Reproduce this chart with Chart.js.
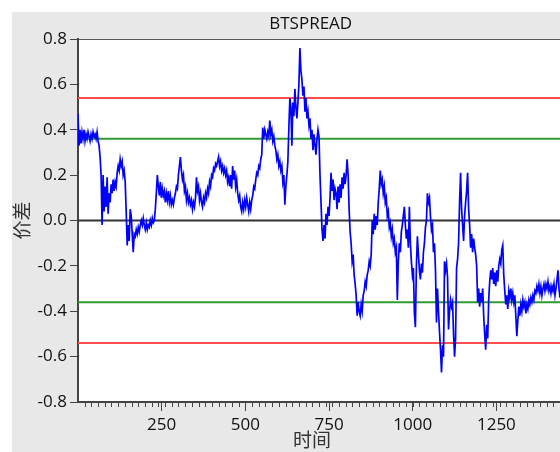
<!DOCTYPE html>
<html>
<head>
<meta charset="utf-8">
<script src="https://cdn.jsdelivr.net/npm/chart.js@4.4.0/dist/chart.umd.min.js"></script>
<style>
  body { margin: 0; background: #fff; }
  #wrap { position: absolute; left: 12px; top: 12px; width: 548px; height: 440px; background: #e8e8e8; }
</style>
</head>
<body>
<div id="wrap"><canvas id="spreadChart" width="548" height="440"></canvas></div>
<script>
// spread, one sample every 3 time steps
const step = 3;
const spread = [
  0.47, 0.33, 0.40, 0.34, 0.39, 0.36, 0.40, 0.35, 0.38, 0.36,
  0.39, 0.37, 0.35, 0.38, 0.36, 0.39, 0.37, 0.38, 0.36, 0.39,
  0.35, 0.33, 0.28, 0.20, -0.02, 0.20, 0.04, 0.15, 0.06, 0.19,
  0.03, 0.12, 0.08, 0.16, 0.12, 0.18, 0.13, 0.17, 0.15, 0.21,
  0.24, 0.22, 0.27, 0.24, 0.26, 0.20, 0.22, 0.17, 0.04, -0.11,
  -0.02, -0.09, 0.05, 0.02, -0.06, -0.14,
  -0.06, -0.07, -0.04, -0.06, -0.03, -0.05, -0.02, 0.00, -0.02, 0.01,
  -0.02, -0.04, -0.01, -0.04, -0.02, -0.03, 0.00, -0.02, 0.01, -0.01,
  0.00, 0.05, 0.12, 0.20, 0.15, 0.11, 0.17, 0.10, 0.14, 0.11,
  0.13, 0.08, 0.12, 0.09, 0.13, 0.08, 0.11, 0.07, 0.09, 0.07,
  0.10, 0.12, 0.15, 0.14, 0.20, 0.24, 0.28, 0.22, 0.18, 0.20,
  0.13, 0.15, 0.09, 0.12, 0.08, 0.10, 0.07, 0.09, 0.05, 0.08,
  0.06, 0.10, 0.19, 0.13, 0.15, 0.09, 0.12, 0.08, 0.06, 0.10,
  0.08, 0.12, 0.10, 0.14, 0.12, 0.17, 0.15, 0.20, 0.19, 0.23,
  0.22, 0.25, 0.24, 0.26, 0.28, 0.24, 0.26, 0.22, 0.24, 0.21,
  0.23, 0.20, 0.22, 0.17, 0.19, 0.15, 0.20, 0.14, 0.24, 0.18,
  0.22, 0.15, 0.18, 0.12, 0.09, 0.11, 0.06, 0.04, 0.08, 0.05,
  0.09, 0.06, 0.10, 0.07, 0.04, 0.08, 0.05, 0.09, 0.11, 0.15,
  0.14, 0.18, 0.21, 0.20, 0.24, 0.23, 0.27, 0.29, 0.41, 0.36,
  0.40, 0.38, 0.36, 0.39, 0.37, 0.44, 0.38, 0.40, 0.35, 0.37,
  0.33, 0.31, 0.27, 0.29, 0.24, 0.26, 0.22, 0.24, 0.17, 0.20,
  0.07, 0.15, 0.20, 0.26, 0.41, 0.54, 0.50, 0.33, 0.52, 0.46,
  0.58, 0.50, 0.45, 0.52, 0.60, 0.76, 0.66, 0.62, 0.55, 0.59,
  0.48, 0.54, 0.45, 0.48, 0.42, 0.45, 0.36, 0.40, 0.31, 0.38,
  0.33, 0.29, 0.36, 0.40, 0.37, 0.20, 0.08, -0.04, -0.09, -0.02,
  -0.08, 0.03, -0.02, 0.06, 0.02, 0.10, 0.21, 0.13, 0.18, 0.09,
  0.14, 0.12, 0.05, 0.15, 0.08, 0.16, 0.10, 0.19, 0.14, 0.21,
  0.16, 0.20, 0.27, 0.20, 0.05, -0.05, -0.10, -0.18, -0.15, -0.24,
  -0.28, -0.33, -0.42, -0.36, -0.40, -0.42, -0.37, -0.40, -0.33, -0.31,
  -0.27, -0.29, -0.24, -0.22, -0.18, -0.20, -0.15, 0.00, -0.06, 0.03,
  -0.04, 0.02, -0.02, 0.08, 0.14, 0.22, 0.16, 0.18, 0.12, 0.15,
  0.08, 0.10, 0.02, 0.04, -0.03, -0.01, -0.07, -0.04, -0.10, -0.08,
  -0.14, -0.12, -0.35, -0.18, -0.10, -0.14, -0.05, -0.02, 0.02, 0.06,
  -0.02, -0.08, -0.04, -0.12, 0.06, -0.10, -0.18, -0.24, -0.21, -0.41,
  -0.47, -0.20, -0.07, -0.15, -0.22, -0.26, -0.19, -0.23, -0.14, -0.10,
  -0.03, 0.00, 0.12, 0.08, 0.10, 0.02, -0.04, -0.02, -0.14, -0.10,
  -0.22, -0.45, -0.30, -0.40, -0.49, -0.57, -0.67, -0.55, -0.60, -0.18,
  -0.22, -0.19, -0.25, -0.48, -0.40, -0.35, -0.38, -0.36, -0.50, -0.60,
  -0.52, -0.21, -0.17, -0.10, 0.08, 0.21, 0.05, -0.02, -0.09, 0.02,
  0.08, 0.13, 0.21, 0.05, -0.02, -0.12, -0.06, -0.14, -0.08, -0.12,
  -0.15, -0.20, -0.36, -0.30, -0.38, -0.32, -0.36, -0.30, -0.42, -0.50,
  -0.57, -0.46, -0.52, -0.35, -0.27, -0.22, -0.26, -0.21, -0.28, -0.23,
  -0.29, -0.22, -0.27, -0.20, -0.17, -0.19, -0.13, -0.11, -0.24, -0.31,
  -0.37, -0.33, -0.39, -0.31, -0.34, -0.30, -0.35, -0.32, -0.36, -0.33,
  -0.42, -0.51, -0.44, -0.38, -0.42, -0.37, -0.40, -0.35, -0.38, -0.36,
  -0.41, -0.37, -0.39, -0.35, -0.37, -0.34, -0.36, -0.33, -0.35, -0.31,
  -0.32, -0.29, -0.31, -0.28, -0.32, -0.29, -0.33, -0.30, -0.28, -0.31,
  -0.28, -0.30, -0.27, -0.31, -0.29, -0.32, -0.29, -0.31, -0.28, -0.33,
  -0.30, -0.26, -0.22, -0.30, -0.34, -0.36, -0.33
];

// threshold lines
const upperRed = 0.54;
const upperGreen = 0.36;
const zeroLine = 0;
const lowerGreen = -0.36;
const lowerRed = -0.54;

const xTicks = [250, 500, 750, 1000, 1250];
const yTicks = [-0.8, -0.6, -0.4, -0.2, 0, 0.2, 0.4, 0.6, 0.8];
const xMax = 1440;

const flat = (v) => [{x: 0, y: v}, {x: xMax, y: v}];

const extras = {
  id: 'extras',
  beforeDraw(chart) {
    const {ctx, chartArea: a} = chart;
    ctx.save();
    ctx.fillStyle = '#fff';
    ctx.fillRect(a.left, a.top, a.right - a.left, a.bottom - a.top);
    ctx.restore();
  },
  afterDraw(chart) {
    const {ctx, chartArea: a} = chart;
    const xs = chart.scales.x;
    ctx.save();
    // top frame
    ctx.strokeStyle = '#555';
    ctx.lineWidth = 1;
    ctx.beginPath();
    ctx.moveTo(a.left, a.top + 0.5);
    ctx.lineTo(a.right, a.top + 0.5);
    ctx.stroke();
    // minor ticks on x
    ctx.strokeStyle = '#444';
    for (let v = 20; v <= xMax; v += 20) {
      const px = Math.round(xs.getPixelForValue(v)) + 0.5;
      ctx.beginPath();
      ctx.moveTo(px, a.bottom);
      ctx.lineTo(px, a.bottom + 5);
      ctx.stroke();
    }
    // titles
    ctx.fillStyle = '#111';
    ctx.textAlign = 'center';
    ctx.textBaseline = 'middle';
    ctx.font = "17px 'Open Sans'";
    ctx.fillText('BTSPREAD', 298.7, 12);
    ctx.fillStyle = '#333';
    ctx.font = "19px 'Noto Sans CJK SC'";
    ctx.fillText('时间', 300, 428);
    ctx.translate(10, 208.5);
    ctx.rotate(-Math.PI / 2);
    ctx.fillText('价差', 0, 0);
    ctx.restore();
  }
};

const ctx = document.getElementById('spreadChart').getContext('2d');
Chart.defaults.font.family = "'Open Sans', sans-serif";
Chart.defaults.color = '#111';

new Chart(ctx, {
  type: 'line',
  data: {
    datasets: [
      {data: spread.map((v, i) => ({x: i * step, y: v})), borderColor: '#0000ff', borderWidth: 1.7, order: 0},
      {data: flat(upperRed), borderColor: '#ff4d4d', borderWidth: 2, order: 1},
      {data: flat(upperGreen), borderColor: '#2e9b2e', borderWidth: 2, order: 1},
      {data: flat(zeroLine), borderColor: '#333', borderWidth: 2, order: 1},
      {data: flat(lowerGreen), borderColor: '#2e9b2e', borderWidth: 2, order: 1},
      {data: flat(lowerRed), borderColor: '#ff4d4d', borderWidth: 2, order: 1}
    ]
  },
  options: {
    responsive: false,
    animation: false,
    devicePixelRatio: 1,
    layout: {padding: {top: 27, right: 0, bottom: 0, left: 0}},
    elements: {point: {radius: 0}, line: {tension: 0}},
    plugins: {legend: {display: false}, tooltip: {enabled: false}},
    scales: {
      x: {
        type: 'linear',
        min: 0,
        max: xMax,
        afterFit: (s) => { s.height = 50; },
        afterBuildTicks: (s) => { s.ticks = xTicks.map(v => ({value: v})); },
        border: {color: '#444', width: 2},
        grid: {drawOnChartArea: false, tickLength: 9, color: '#444', lineWidth: 1},
        ticks: {font: {size: 17}, padding: 4, maxRotation: 0, callback: (v) => String(v)}
      },
      y: {
        min: -0.8,
        max: 0.8,
        afterFit: (s) => { s.width = 66; },
        afterBuildTicks: (s) => { s.ticks = yTicks.map(v => ({value: v})); },
        border: {color: '#444', width: 2},
        grid: {drawOnChartArea: false, tickLength: 8, color: '#444', lineWidth: 1},
        ticks: {font: {size: 17}, padding: 3, callback: (v) => v.toFixed(1)}
      }
    }
  },
  plugins: [extras]
});
</script>
</body>
</html>
